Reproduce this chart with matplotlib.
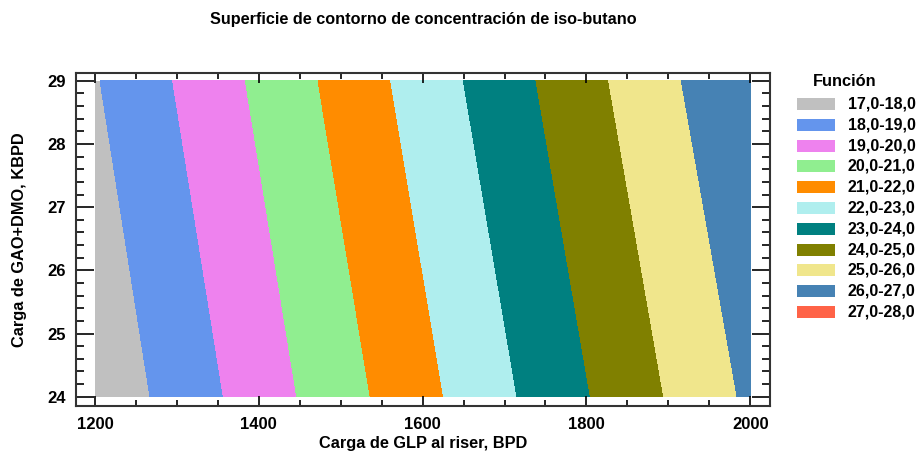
import numpy as np
import matplotlib.pyplot as plt
from matplotlib.patches import Rectangle
from matplotlib.ticker import MultipleLocator

plt.rcParams['font.family'] = ['Liberation Sans', 'DejaVu Sans']
plt.rcParams['font.weight'] = 'bold'

# corner values of the response surface
x_glp = [1200, 2000]          # Carga de GLP al riser, BPD
y_gao = [24, 29]              # Carga de GAO+DMO, KBPD
z_iso = [[17.25, 26.18],      # y = 24
         [17.93, 26.95]]      # y = 29

levels = [17, 18, 19, 20, 21, 22, 23, 24, 25, 26, 27, 28]
labels = ["17,0-18,0", "18,0-19,0", "19,0-20,0", "20,0-21,0", "21,0-22,0",
          "22,0-23,0", "23,0-24,0", "24,0-25,0", "25,0-26,0", "26,0-27,0",
          "27,0-28,0"]
colors = ["#C0C0C0", "#6495ED", "#EE82EE", "#90EE90", "#FF8C00", "#AFEEEE",
          "#008080", "#808000", "#F0E68C", "#4682B4", "#FF6347"]

fig = plt.figure(figsize=(9.24, 4.57), dpi=100)
ax = fig.add_axes([0.0823, 0.1122, 0.7510, 0.7287])

ax.contourf(x_glp, y_gao, np.array(z_iso), levels=levels, colors=colors)

ax.set_xlim(1177, 2024)
ax.set_ylim(23.858, 29.127)
ax.xaxis.set_major_locator(MultipleLocator(200))
ax.xaxis.set_minor_locator(MultipleLocator(50))
ax.yaxis.set_major_locator(MultipleLocator(1))
ax.yaxis.set_minor_locator(MultipleLocator(0.2))
ax.tick_params(axis='both', which='both', direction='in', top=True, right=True,
               labelsize=12, colors='black', width=1.2)
ax.tick_params(axis='x', which='major', length=7, pad=8)
ax.tick_params(axis='x', which='minor', length=4)
ax.tick_params(axis='y', which='major', length=13, pad=7)
ax.tick_params(axis='y', which='minor', length=6)
for s in ax.spines.values():
    s.set_linewidth(1.5)
    s.set_color('#333333')

ax.set_xlabel("Carga de GLP al riser, BPD", fontsize=11.8, fontweight='bold', labelpad=3)
ax.set_ylabel("Carga de GAO+DMO, KBPD", fontsize=11.8, fontweight='bold', labelpad=15)
ax.set_title("Superficie de contorno de concentración de iso-butano",
             fontsize=11.7, fontweight='bold', pad=35)

# legend
W, H = 924.0, 457.0
fig.text(845 / W, 1 - 82 / H, "Función", fontsize=11.8, fontweight='bold',
         ha='center', va='center')
for i, (lab, col) in enumerate(zip(labels, colors)):
    yc = 104 + i * 20.8
    fig.patches.append(Rectangle((797 / W, 1 - (yc + 6) / H), 38 / W, 12 / H,
                                 transform=fig.transFigure, facecolor=col,
                                 edgecolor='none'))
    fig.text(848 / W, 1 - yc / H, lab, fontsize=11.5, fontweight='bold',
             ha='left', va='center')

fig.savefig("out.png", dpi=100)
